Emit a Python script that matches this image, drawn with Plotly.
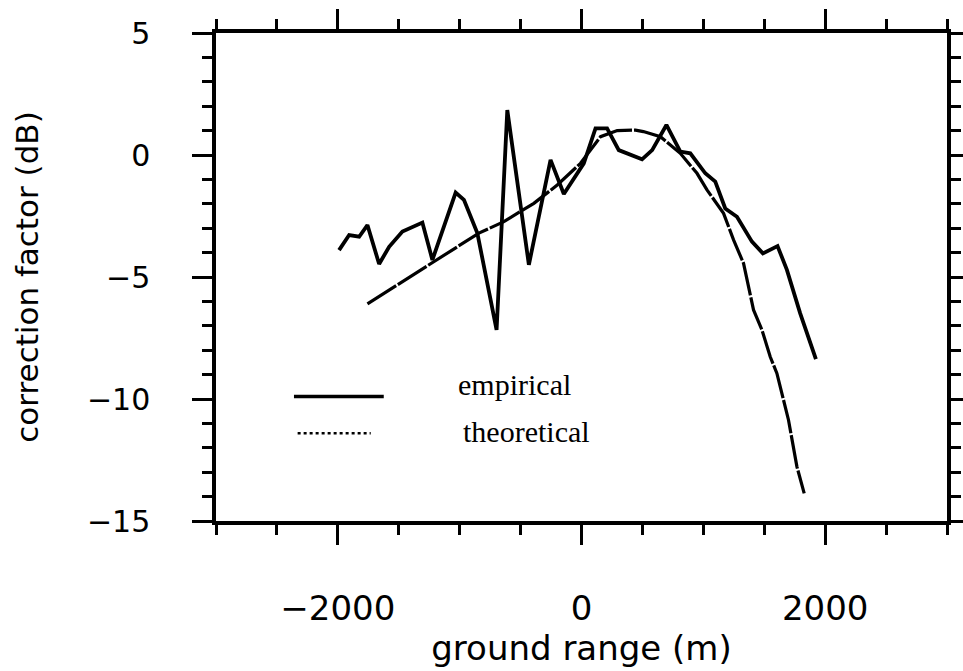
import plotly.graph_objects as go

# empirical correction factor (jagged)
emp_x = [-1990, -1907, -1825, -1757, -1661, -1579, -1470, -1306, -1224, -1033, -965, -855,
         -697, -609, -432, -254, -145, 19, 115, 210, 306, 497, 580, 697, 811, 893, 1016,
         1098, 1180, 1276, 1399, 1489, 1609, 1686, 1795, 1924]
emp_y = [-3.9, -3.28, -3.35, -2.87, -4.47, -3.76, -3.14, -2.77, -4.3, -1.54, -1.84, -3.2,
         -7.17, 1.84, -4.5, -0.2, -1.6, -0.34, 1.09, 1.09, 0.2, -0.18, 0.2, 1.23, 0.14, 0.07,
         -0.75, -1.09, -2.19, -2.53, -3.55, -4.03, -3.73, -4.71, -6.49, -8.37]

# theoretical correction factor (smooth)
th_x = [-1757, -1300, -842, -637, -391, -199, -8, 156, 293, 443, 508, 648, 811, 948, 1030,
        1166, 1248, 1330, 1412, 1481, 1549, 1604, 1699, 1768, 1828]
th_y = [-6.1, -4.65, -3.2, -2.73, -1.98, -1.23, -0.34, 0.75, 1.0, 1.02, 0.96, 0.75, 0.07,
        -0.75, -1.43, -2.39, -3.48, -4.44, -6.35, -7.17, -8.27, -8.95, -10.86, -12.77, -13.87]

legend_labels = ["empirical", "theoretical"]

sans = "DejaVu Sans"
serif = "Liberation Serif"

fig = go.Figure()
fig.add_trace(go.Scatter(x=th_x, y=th_y, mode="lines", name=legend_labels[1],
                         line=dict(color="black", width=3.2, dash="34px,2px")))
fig.add_trace(go.Scatter(x=emp_x, y=emp_y, mode="lines", name=legend_labels[0],
                         line=dict(color="black", width=3.8)))

# hand-drawn style legend inside the plot
fig.add_shape(type="line", xref="x", yref="y", x0=-2360, x1=-1623, y0=-9.9, y1=-9.9,
              line=dict(color="black", width=3.5))
fig.add_shape(type="line", xref="x", yref="y", x0=-2330, x1=-1730, y0=-11.4, y1=-11.4,
              line=dict(color="black", width=2.5, dash="dot"))
fig.add_annotation(x=-1030, y=-9.4, xref="x", yref="y", text=legend_labels[0],
                   showarrow=False, xanchor="left", yanchor="middle",
                   font=dict(family=serif, size=30, color="black"))
fig.add_annotation(x=-990, y=-11.35, xref="x", yref="y", text=legend_labels[1],
                   showarrow=False, xanchor="left", yanchor="middle",
                   font=dict(family=serif, size=30, color="black"))

axis_common = dict(showline=True, linecolor="black", linewidth=3.5, mirror="ticks",
                   ticks="outside", tickcolor="black", tickwidth=3, showgrid=False,
                   zeroline=False, automargin=False)

fig.update_xaxes(range=[-3000, 3000], tick0=-2000, dtick=2000, ticklen=20,
                 ticklabelstandoff=34,
                 tickfont=dict(family=sans, size=34, color="black"),
                 minor=dict(dtick=500, tick0=-3000, ticks="outside", ticklen=10,
                            tickwidth=3, tickcolor="black"),
                 title=dict(text="ground range (m)", font=dict(family=sans, size=34, color="black"),
                            standoff=10),
                 **axis_common)
fig.update_yaxes(range=[-15, 5], tick0=-15, dtick=5, ticklen=20,
                 ticklabelstandoff=36,
                 tickfont=dict(family=sans, size=30, color="black"),
                 minor=dict(dtick=1, ticks="outside", ticklen=10, tickwidth=3, tickcolor="black"),
                 title=dict(text="correction factor (dB)", font=dict(family=sans, size=31, color="black"),
                            standoff=40),
                 **axis_common)

fig.update_layout(width=963, height=671, showlegend=False,
                  margin=dict(l=216, r=16, t=33, b=150),
                  plot_bgcolor="white", paper_bgcolor="white")

fig.write_html("out.html")
